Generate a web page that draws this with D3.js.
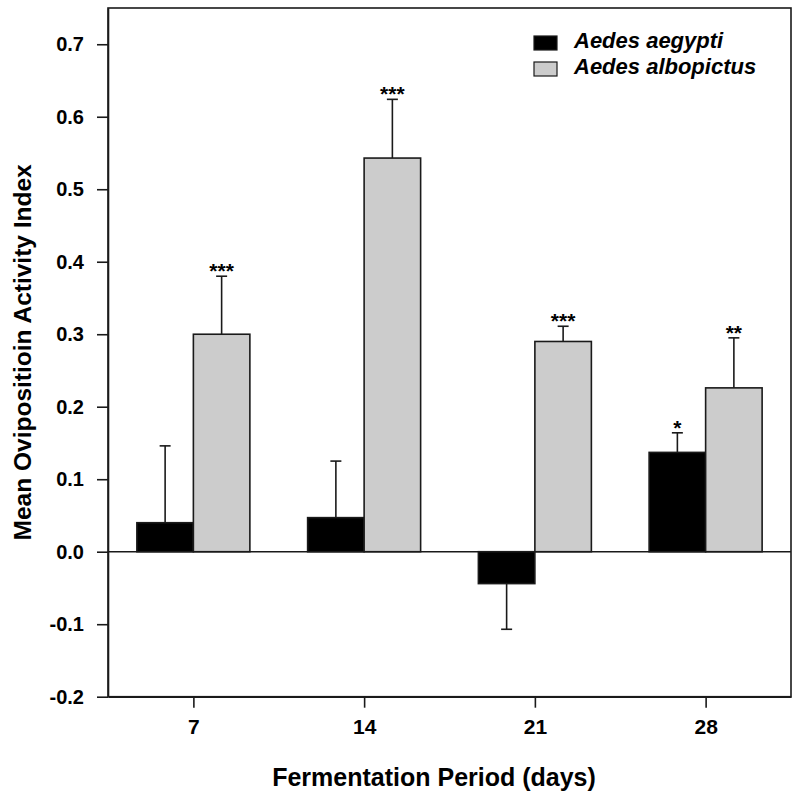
<!DOCTYPE html>
<html>
<head>
<meta charset="utf-8">
<script src="https://cdn.jsdelivr.net/npm/d3@7"></script>
<style>
  html, body { margin: 0; padding: 0; background: #fff; }
  svg { display: block; font-family: "Liberation Sans", Arial, Helvetica, sans-serif; font-weight: bold; }
</style>
</head>
<body>
<svg id="chart" width="800" height="799"></svg>
<script>
// ---- data ----
const periods = ["7", "14", "21", "28"];
const seriesNames = ["Aedes aegypti", "Aedes albopictus"];
const aegyptiMean = [0.040, 0.047, -0.044, 0.137];
const aegyptiErr  = [0.106, 0.078, 0.063, 0.027];
const albopictusMean = [0.300, 0.543, 0.290, 0.226];
const albopictusErr  = [0.080, 0.081, 0.021, 0.069];
const aegyptiSig = ["", "", "", "*"];
const albopictusSig = ["***", "***", "***", "**"];
const yTicks = [-0.2, -0.1, 0.0, 0.1, 0.2, 0.3, 0.4, 0.5, 0.6, 0.7];
const seriesColors = ["#000000", "#cccccc"];

const means = [aegyptiMean, albopictusMean];
const errs = [aegyptiErr, albopictusErr];
const sigs = [aegyptiSig, albopictusSig];

const rows = [];
periods.forEach((p, i) => {
  seriesNames.forEach((s, j) => {
    rows.push({ period: p, series: s, mean: means[j][i], err: errs[j][i], sig: sigs[j][i], color: seriesColors[j] });
  });
});

// ---- layout ----
const pLeft = 108, pRight = 791, pTop = 8, pBottom = 696.7;
const svg = d3.select("#chart");

const x = d3.scalePoint().domain(periods).range([pLeft, pRight]).padding(0.5);
const x1 = d3.scaleBand().domain(seriesNames).range([-56.5, 56.5]).padding(0);
const y = d3.scaleLinear().domain([-0.2, 0.75]).range([pBottom, pTop]);

// frame
svg.append("rect")
  .attr("x", pLeft).attr("y", pTop)
  .attr("width", pRight - pLeft).attr("height", pBottom - pTop)
  .attr("fill", "none").attr("stroke", "#1a1a1a").attr("stroke-width", 1.6);

// zero line
svg.append("line")
  .attr("x1", pLeft).attr("x2", pRight)
  .attr("y1", y(0)).attr("y2", y(0))
  .attr("stroke", "#1a1a1a").attr("stroke-width", 1.6);

// error bars
const eb = svg.append("g").attr("stroke", "#1a1a1a").attr("stroke-width", 1.6);
rows.forEach(d => {
  const cx = x(d.period) + x1(d.series) + x1.bandwidth() / 2;
  const end = d.mean >= 0 ? d.mean + d.err : d.mean - d.err;
  eb.append("line").attr("x1", cx).attr("x2", cx).attr("y1", y(d.mean)).attr("y2", y(end));
  eb.append("line").attr("x1", cx - 5.5).attr("x2", cx + 5.5).attr("y1", y(end)).attr("y2", y(end));
});

// bars
svg.append("g").selectAll("rect").data(rows).join("rect")
  .attr("x", d => x(d.period) + x1(d.series))
  .attr("width", x1.bandwidth())
  .attr("y", d => y(Math.max(0, d.mean)))
  .attr("height", d => Math.abs(y(d.mean) - y(0)))
  .attr("fill", d => d.color)
  .attr("stroke", "#1a1a1a").attr("stroke-width", 1.6);

// significance stars
svg.append("g").selectAll("text").data(rows.filter(d => d.sig)).join("text")
  .attr("x", d => x(d.period) + x1(d.series) + x1.bandwidth() / 2)
  .attr("y", d => y(d.mean + d.err) + 2)
  .attr("text-anchor", "middle")
  .attr("font-size", 21)
  .attr("fill", "#000")
  .text(d => d.sig);

// y axis
const yAxis = svg.append("g").attr("transform", `translate(${pLeft},0)`)
  .call(d3.axisLeft(y).tickValues(yTicks).tickFormat(d => d.toFixed(1)).tickSize(11).tickSizeOuter(0).tickPadding(13));
yAxis.select(".domain").attr("stroke", "#1a1a1a").attr("stroke-width", 1.6);
yAxis.selectAll(".tick line").attr("stroke", "#1a1a1a").attr("stroke-width", 1.6);
yAxis.selectAll(".tick text").attr("font-size", 20).attr("font-family", "'Liberation Sans', Arial, sans-serif").attr("font-weight", "bold").attr("fill", "#000");

// x axis
const xAxis = svg.append("g").attr("transform", `translate(0,${pBottom})`)
  .call(d3.axisBottom(x).tickSize(11).tickSizeOuter(0).tickPadding(11));
xAxis.select(".domain").attr("stroke", "#1a1a1a").attr("stroke-width", 1.6);
xAxis.selectAll(".tick line").attr("stroke", "#1a1a1a").attr("stroke-width", 1.6);
xAxis.selectAll(".tick text").attr("font-size", 21).attr("font-family", "'Liberation Sans', Arial, sans-serif").attr("font-weight", "bold").attr("fill", "#000");

// axis titles
svg.append("text")
  .attr("x", 434).attr("y", 786)
  .attr("text-anchor", "middle").attr("font-size", 25).attr("fill", "#000")
  .text("Fermentation Period (days)");

svg.append("text")
  .attr("transform", `translate(31,${(pTop + pBottom) / 2}) rotate(-90)`)
  .attr("text-anchor", "middle").attr("font-size", 24.5).attr("fill", "#000")
  .text("Mean Ovipositioin Activity Index");

// legend
const legend = svg.append("g");
seriesNames.forEach((s, j) => {
  const ly = 36 + j * 26;
  legend.append("rect")
    .attr("x", 534).attr("y", ly).attr("width", 23).attr("height", 14)
    .attr("fill", seriesColors[j]).attr("stroke", "#1a1a1a").attr("stroke-width", 1.2);
  legend.append("text")
    .attr("x", 574).attr("y", ly + 12)
    .attr("font-size", 22).attr("font-style", "italic").attr("fill", "#000")
    .text(s);
});
</script>
</body>
</html>
